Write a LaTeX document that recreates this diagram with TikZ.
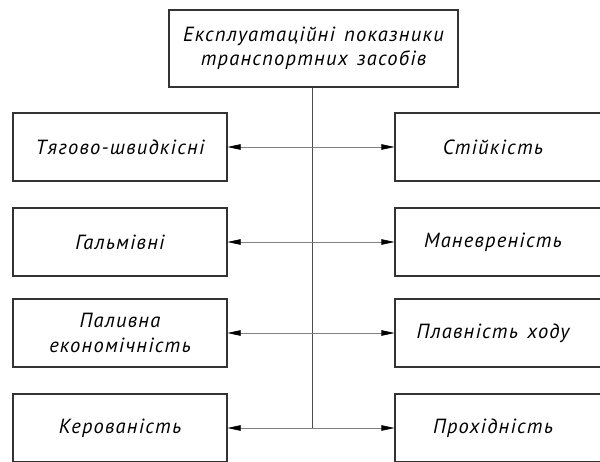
\documentclass[tikz,border=0pt]{standalone}
\usepackage{fontspec}
\setmainfont{PT Sans}[LetterSpace=6,WordSpace=1.4]
\usetikzlibrary{arrows.meta}
\begin{document}
\begin{tikzpicture}[x=1pt,y=-1pt,
  box/.style={draw=black!80,line width=1.1pt,minimum width=214pt,minimum height=68pt,inner sep=0pt,align=center,font=\itshape\fontsize{20.5}{25}\selectfont},
  rbox/.style={box,minimum width=215pt,execute at begin node={\hspace*{-19pt}}},
  topbox/.style={box,minimum width=289pt,minimum height=77pt,font=\itshape\fontsize{20.5}{24}\selectfont},
  link/.style={draw=black!50,line width=0.6pt,-{Triangle[length=13pt,width=5.5pt,black]}},
  trunk/.style={draw=black!70,line width=0.7pt}]
\clip (0,0) rectangle (600,462);
\fill[white] (0,0) rectangle (600,462);
\node[topbox] (top) at (313.5,48.5) {Експлуатаційні показники\\транспортних засобів};
\node[box] (l1) at (120,147) {Тягово-швидкісні};
\node[box] (l2) at (120,242) {Гальмівні};
\node[box] (l3) at (120,333) {Паливна\\економічність};
\node[box] (l4) at (120,428) {Керованість};
\node[rbox] (r1) at (502.5,147) {Стійкість};
\node[rbox] (r2) at (502.5,242) {Маневреність};
\node[rbox] (r3) at (502.5,333) {Плавність ходу};
\node[rbox] (r4) at (502.5,428) {Прохідність};
\coordinate (j1) at (312,147);
\coordinate (j2) at (312,242);
\coordinate (j3) at (312,333);
\coordinate (j4) at (312,428);
\draw[trunk] (top.south -| j1) -- (j4);
\foreach \i in {1,2,3,4}{
  \draw[link] (j\i) -- (l\i.east);
  \draw[link] (j\i) -- (r\i.west);
}
\end{tikzpicture}
\end{document}
